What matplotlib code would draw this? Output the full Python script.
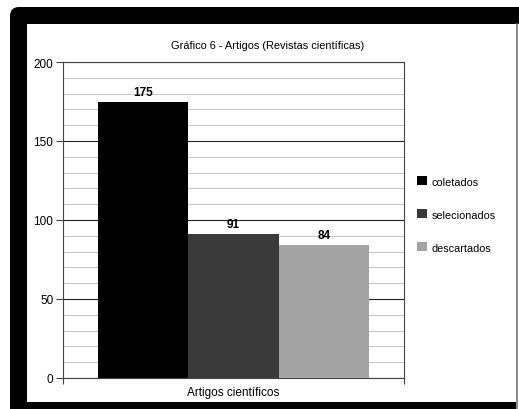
import numpy as np
import matplotlib.pyplot as plt
from matplotlib.patches import FancyBboxPatch, Rectangle

plt.rcParams['font.family'] = ['Liberation Sans', 'DejaVu Sans']

categoria = 'Artigos científicos'
series = ['coletados', 'selecionados', 'descartados']
valores = [175, 91, 84]
cores = ['#000000', '#3a3a3a', '#a3a3a3']

W, H = 519, 410
fig = plt.figure(figsize=(W / 100, H / 100), dpi=100)

# background layer in pixel units: black rounded frame with white panel
bg = fig.add_axes([0, 0, 1, 1], zorder=0)
bg.set_xlim(0, W)
bg.set_ylim(H, 0)
bg.axis('off')
bg.add_patch(FancyBboxPatch((10, 8), 530, 420, boxstyle='round,pad=0,rounding_size=9',
                            fc='black', ec='none'))
bg.add_patch(Rectangle((27, 25), 500, 378, fc='white', ec='none'))
bg.add_patch(Rectangle((516, 403), 20, 10, fc='white', ec='none'))
bg.plot([516.5, 516.5], [25, 410], color='#777777', lw=1.2)

ax = fig.add_axes([63 / W, (H - 379) / H, (404 - 63) / W, (379 - 63) / H], zorder=1)
ax.set_facecolor('none')

w = 0.265
for i, (s, v, c) in enumerate(zip(series, valores, cores)):
    x = (i - 1) * w
    ax.bar(x, v, width=w, color=c, label=s, zorder=3)
    ax.text(x, v + 2.5, str(v), ha='center', va='bottom', fontsize=8.5,
            fontweight='bold', zorder=4)

ax.set_xlim(-0.5, 0.5)
ax.set_ylim(0, 200)
ax.set_yticks([0, 50, 100, 150, 200])
ax.set_yticks(np.arange(0, 201, 10), minor=True)
ax.grid(which='minor', axis='y', color='#c8c8c8', lw=0.8, zorder=1)
ax.grid(which='major', axis='y', color='#222222', lw=0.8, zorder=2)
ax.tick_params(axis='y', which='major', length=5, width=0.8, color='#444444',
               labelsize=8.5, pad=2)
ax.tick_params(axis='y', which='minor', length=0)

ax.set_xticks([0])
ax.set_xticklabels([categoria])
ax.set_xticks([-0.5, 0.5], minor=True)
ax.tick_params(axis='x', which='major', length=0, labelsize=8.5, pad=6)
ax.tick_params(axis='x', which='minor', length=4, width=0.8, color='#444444')
for sp in ax.spines.values():
    sp.set_color('#444444')
    sp.set_linewidth(0.8)

fig.text(268 / W, 1 - 46 / H, 'Gráfico 6 - Artigos (Revistas científicas)',
         ha='center', va='center', fontsize=7.9)

ax.legend(loc='upper left', bbox_to_anchor=(413 / W, 1 - 173 / H),
          bbox_transform=fig.transFigure, frameon=False, fontsize=7.8,
          handlelength=0.9, handleheight=0.9, handletextpad=0.4,
          labelspacing=2.1, borderaxespad=0)

fig.savefig('out.png', dpi=100)
